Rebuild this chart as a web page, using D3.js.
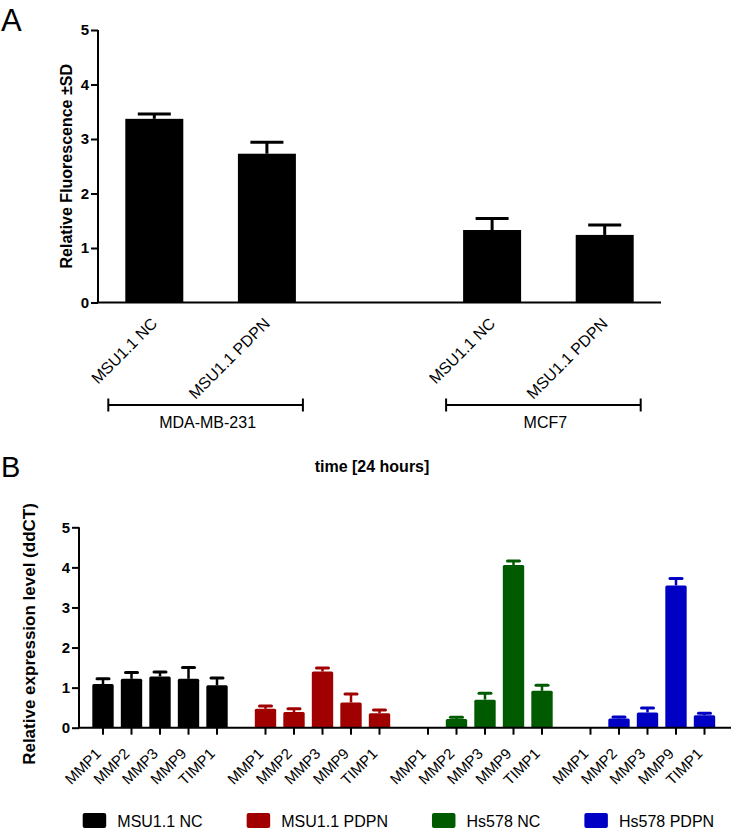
<!DOCTYPE html>
<html>
<head>
<meta charset="utf-8">
<script src="https://cdn.jsdelivr.net/npm/d3@7"></script>
<style>
  html, body { margin: 0; padding: 0; background: #fff; }
  svg { display: block; font-family: "Liberation Sans", Arial, sans-serif; }
</style>
</head>
<body>
<svg id="chart" width="732" height="831"></svg>
<script>
// ---------- Panel A data ----------
const aCellLines = ["MDA-MB-231", "MCF7"];
const aConditions = ["MSU1.1 NC", "MSU1.1 PDPN"];
const aValues = [3.37, 2.73, 1.33, 1.24];     // MDA NC, MDA PDPN, MCF7 NC, MCF7 PDPN
const aErrors = [0.09, 0.21, 0.21, 0.18];
const aYTicks = [0, 1, 2, 3, 4, 5];

// ---------- Panel B data ----------
const bGroups = ["MSU1.1 NC", "MSU1.1 PDPN", "Hs578 NC", "Hs578 PDPN"];
const bGenes = ["MMP1", "MMP2", "MMP3", "MMP9", "TIMP1"];
const bColors = ["#000000", "#a00000", "#005a00", "#0000c4"];
const bMSU_NC     = [1.09, 1.22, 1.28, 1.22, 1.06];
const bMSU_PDPN   = [0.47, 0.39, 1.40, 0.63, 0.36];
const bHs578_NC   = [null, 0.22, 0.70, 4.06, 0.92];
const bHs578_PDPN = [null, 0.23, 0.38, 3.55, 0.31];
const bErr_MSU_NC     = [0.13, 0.16, 0.11, 0.28, 0.18];
const bErr_MSU_PDPN   = [0.07, 0.08, 0.09, 0.21, 0.08];
const bErr_Hs578_NC   = [null, 0.04, 0.16, 0.10, 0.14];
const bErr_Hs578_PDPN = [null, 0.04, 0.11, 0.17, 0.05];
const bYTicks = [0, 1, 2, 3, 4, 5];
const bTitle = "time [24 hours]";

const svg = d3.select("#chart");
const FONT = '"Liberation Sans", Arial, sans-serif';

// ================= PANEL A =================
const gA = svg.append("g");
gA.append("text").attr("x", 1).attr("y", 31).attr("font-size", 31).text("A");

const aSlots = [];
aCellLines.forEach((cl, i) => {
  if (i > 0) aSlots.push("_gap" + i);
  aConditions.forEach(c => aSlots.push(cl + "|" + c));
});
const aRows = [];
aCellLines.forEach((cl, i) => aConditions.forEach((c, j) => {
  const k = i * aConditions.length + j;
  aRows.push({ key: cl + "|" + c, cell: cl, cond: c, v: aValues[k], e: aErrors[k] });
}));

const xA = d3.scaleBand().domain(aSlots).range([98, 661]).paddingInner(0.485).paddingOuter(0.2425);
const yA = d3.scaleLinear().domain([0, 5]).range([302.5, 30]);

// bars
gA.selectAll("rect.bar").data(aRows).join("rect")
  .attr("x", d => xA(d.key)).attr("width", xA.bandwidth())
  .attr("y", d => yA(d.v)).attr("height", d => yA(0) - yA(d.v))
  .attr("fill", "#000");
// error bars
const aErrG = gA.selectAll("g.err").data(aRows).join("g");
aErrG.append("line")
  .attr("x1", d => xA(d.key) + xA.bandwidth() / 2).attr("x2", d => xA(d.key) + xA.bandwidth() / 2)
  .attr("y1", d => yA(d.v)).attr("y2", d => yA(d.v + d.e))
  .attr("stroke", "#000").attr("stroke-width", 3);
aErrG.append("line")
  .attr("x1", d => xA(d.key) + xA.bandwidth() / 2 - 16.5).attr("x2", d => xA(d.key) + xA.bandwidth() / 2 + 16.5)
  .attr("y1", d => yA(d.v + d.e)).attr("y2", d => yA(d.v + d.e))
  .attr("stroke", "#000").attr("stroke-width", 3);

// y axis
const axA = gA.append("g").attr("transform", `translate(${xA.range()[0]},0)`)
  .call(d3.axisLeft(yA).tickValues(aYTicks).tickFormat(d3.format("d")).tickSize(7).tickPadding(2));
axA.select(".domain").attr("stroke-width", 2).attr("d", `M0,${yA(5)}V${yA(0)}`);
axA.selectAll(".tick line").attr("stroke-width", 2);
axA.selectAll(".tick text").attr("font-size", 15).attr("font-weight", "bold").attr("font-family", FONT).attr("fill", "#000");
// x axis line
gA.append("line").attr("x1", xA.range()[0] - 1).attr("x2", xA.range()[1])
  .attr("y1", yA(0)).attr("y2", yA(0)).attr("stroke", "#000").attr("stroke-width", 2);

// x labels
gA.selectAll("text.xl").data(aRows).join("text")
  .attr("transform", d => `translate(${xA(d.key) + xA.bandwidth() / 2 + 4},${yA(0) + 22}) rotate(-45)`)
  .attr("text-anchor", "end").attr("font-size", 16).text(d => d.cond);

// y label
gA.append("text")
  .attr("transform", `translate(71.5,${(yA(0) + yA(5)) / 2}) rotate(-90)`)
  .attr("text-anchor", "middle").attr("font-size", 16).attr("font-weight", "bold")
  .text("Relative Fluorescence ±SD");

// group brackets
aCellLines.forEach(cl => {
  const rows = aRows.filter(r => r.cell === cl);
  const c1 = xA(rows[0].key) + xA.bandwidth() / 2;
  const c2 = xA(rows[rows.length - 1].key) + xA.bandwidth() / 2;
  const x1 = c1 - 46, x2 = c2 + 36, yb = 405;
  gA.append("line").attr("x1", x1).attr("x2", x2).attr("y1", yb).attr("y2", yb).attr("stroke", "#000").attr("stroke-width", 2);
  [x1, x2].forEach(x => gA.append("line").attr("x1", x).attr("x2", x).attr("y1", yb - 6.5).attr("y2", yb + 6.5).attr("stroke", "#000").attr("stroke-width", 2));
  gA.append("text").attr("x", (c1 + c2) / 2 - 3).attr("y", 428).attr("text-anchor", "middle").attr("font-size", 16).text(cl);
});

// ================= PANEL B =================
const gB = svg.append("g");
gB.append("text").attr("x", 1).attr("y", 477).attr("font-size", 29).text("B");
gB.append("text").attr("x", 372).attr("y", 472).attr("text-anchor", "middle")
  .attr("font-size", 16).attr("font-weight", "bold").text(bTitle);

const bVals = [bMSU_NC, bMSU_PDPN, bHs578_NC, bHs578_PDPN];
const bErrs = [bErr_MSU_NC, bErr_MSU_PDPN, bErr_Hs578_NC, bErr_Hs578_PDPN];
const bRows = [];
bGroups.forEach((g, gi) => bGenes.forEach((gene, i) => {
  bRows.push({ group: g, gi, gene, v: bVals[gi][i], e: bErrs[gi][i], color: bColors[gi] });
}));

const xBOuter = d3.scaleBand().domain(bGroups).range([88.75, 718.75]).paddingInner(0.123).paddingOuter(0);
const xBInner = d3.scaleBand().domain(bGenes).range([0, xBOuter.bandwidth()]).paddingInner(0.25).paddingOuter(0.125);
const yB = d3.scaleLinear().domain([0, 5]).range([727.7, 527.3]);
const cx = d => xBOuter(d.group) + xBInner(d.gene) + xBInner.bandwidth() / 2;

const bBars = bRows.filter(d => d.v != null);
gB.selectAll("rect.bbar").data(bBars).join("rect")
  .attr("x", d => xBOuter(d.group) + xBInner(d.gene)).attr("width", xBInner.bandwidth())
  .attr("y", d => yB(d.v)).attr("height", d => yB(0) - yB(d.v))
  .attr("fill", d => d.color).attr("rx", 1.5);
const bErrG = gB.selectAll("g.berr").data(bBars).join("g");
bErrG.append("line")
  .attr("x1", cx).attr("x2", cx)
  .attr("y1", d => yB(d.v)).attr("y2", d => yB(d.v + d.e))
  .attr("stroke", d => d.color).attr("stroke-width", 2.5);
bErrG.append("line")
  .attr("x1", d => cx(d) - 6).attr("x2", d => cx(d) + 6)
  .attr("y1", d => yB(d.v + d.e)).attr("y2", d => yB(d.v + d.e))
  .attr("stroke", d => d.color).attr("stroke-width", 3).attr("stroke-linecap", "round");

// y axis B
const axB = gB.append("g").attr("transform", "translate(79,0)")
  .call(d3.axisLeft(yB).tickValues(bYTicks).tickFormat(d3.format("d")).tickSize(7).tickPadding(2));
axB.select(".domain").attr("stroke-width", 2).attr("d", `M0,${yB(5)}V${yB(0)}`);
axB.selectAll(".tick line").attr("stroke-width", 2);
axB.selectAll(".tick text").attr("font-size", 15).attr("font-weight", "bold").attr("font-family", FONT).attr("fill", "#000");
// x axis B
gB.append("line").attr("x1", 78).attr("x2", 731).attr("y1", yB(0)).attr("y2", yB(0))
  .attr("stroke", "#000").attr("stroke-width", 2);
gB.selectAll("line.xt").data(bRows).join("line")
  .attr("x1", cx).attr("x2", cx).attr("y1", yB(0)).attr("y2", yB(0) + 7)
  .attr("stroke", "#000").attr("stroke-width", 2);
gB.selectAll("text.xbl").data(bRows).join("text")
  .attr("transform", d => `translate(${cx(d) - 1},${yB(0) + 27}) rotate(-45)`)
  .attr("text-anchor", "end").attr("font-size", 15).text(d => d.gene);

// y label B
gB.append("text")
  .attr("transform", `translate(35,634) rotate(-90)`)
  .attr("text-anchor", "middle").attr("font-size", 17).attr("font-weight", "bold")
  .text("Relative expression level (ddCT)");

// legend
let lx = 82.7;
bGroups.forEach((g, gi) => {
  gB.append("rect").attr("x", lx).attr("y", 813).attr("width", 23.5).attr("height", 15)
    .attr("rx", 2).attr("fill", bColors[gi]);
  const t = gB.append("text").attr("x", lx + 34.6).attr("y", 827).attr("font-size", 16).text(g);
  lx = lx + 34.6 + t.node().getComputedTextLength() + 44;
});
</script>
</body>
</html>
